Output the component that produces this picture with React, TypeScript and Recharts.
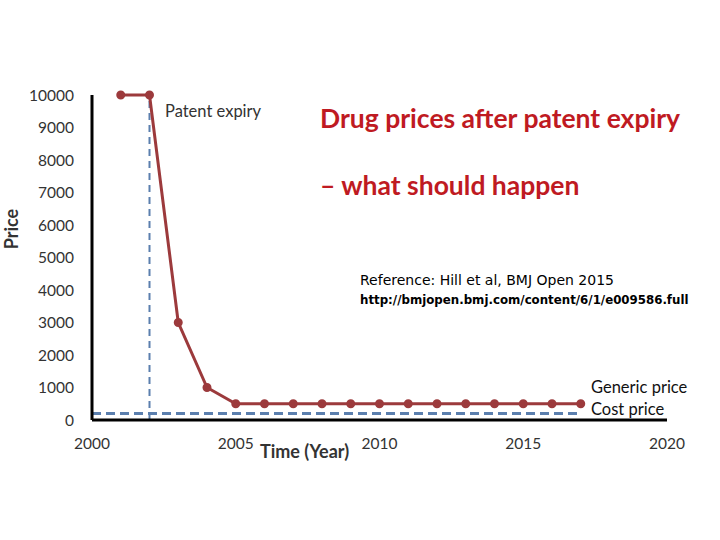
import { LineChart, Line, XAxis, YAxis, ReferenceLine } from 'recharts';

const YEARS = [2000, 2001, 2002, 2003, 2004, 2005, 2006, 2007, 2008, 2009, 2010, 2011, 2012, 2013, 2014, 2015, 2016, 2017];
const GENERIC_PRICE = [null, 10000, 10000, 3000, 1000, 500, 500, 500, 500, 500, 500, 500, 500, 500, 500, 500, 500, 500];
const COST_PRICE = [200, 200, 200, 200, 200, 200, 200, 200, 200, 200, 200, 200, 200, 200, 200, 200, 200, 200];
const X_TICKS = [2000, 2005, 2010, 2015, 2020];
const Y_TICKS = [0, 1000, 2000, 3000, 4000, 5000, 6000, 7000, 8000, 9000, 10000];
const PATENT_EXPIRY = 2002;

const data = YEARS.map((year, i) => ({ year, generic: GENERIC_PRICE[i], cost: COST_PRICE[i] }));

const FONT = 'Lato, "Open Sans", sans-serif';
const tick = { fontSize: 15.5, fill: '#333', fontFamily: FONT };

const App = () => {
  return (
    <div style={{ position: 'absolute', left: 0, top: 0, width: 720, height: 540, background: '#fff', fontFamily: FONT }}>
      <LineChart width={720} height={540} data={data} margin={{ top: 95, right: 53, bottom: 90, left: 0 }}>
        <XAxis
          dataKey="year"
          type="number"
          domain={[2000, 2020]}
          ticks={X_TICKS}
          tick={tick}
          tickLine={false}
          tickMargin={12}
          height={30}
          axisLine={{ stroke: '#000', strokeWidth: 3 }}
        />
        <YAxis
          domain={[0, 10000]}
          ticks={Y_TICKS}
          tick={tick}
          tickLine={false}
          tickMargin={12}
          width={92}
          axisLine={{ stroke: '#000', strokeWidth: 3 }}
        />
        <ReferenceLine x={PATENT_EXPIRY} stroke="#5b7fae" strokeWidth={2} strokeDasharray="7 5" />
        <Line
          dataKey="cost"
          stroke="#5b7fae"
          strokeWidth={3}
          strokeDasharray="9 5"
          dot={false}
          isAnimationActive={false}
        />
        <Line
          dataKey="generic"
          stroke="#9c3a3c"
          strokeWidth={3}
          dot={{ r: 3, fill: '#9c3a3c', stroke: '#9c3a3c' }}
          isAnimationActive={false}
        />
      </LineChart>

      <div style={{ position: 'absolute', left: 320, top: 102, fontSize: 26.5, fontWeight: 700, color: '#bf1a22', whiteSpace: 'nowrap' }}>
        Drug prices after patent expiry
      </div>
      <div style={{ position: 'absolute', left: 320, top: 169, fontSize: 26.5, fontWeight: 700, color: '#bf1a22', whiteSpace: 'nowrap' }}>
        – what should happen
      </div>
      <div style={{ position: 'absolute', left: 165, top: 101, fontSize: 16.5, color: '#333', whiteSpace: 'nowrap' }}>
        Patent expiry
      </div>
      <div style={{ position: 'absolute', left: -11, top: 220, fontSize: 18, lineHeight: '18px', fontWeight: 700, color: '#333', transform: 'rotate(-90deg)', transformOrigin: 'center', width: 44, textAlign: 'center' }}>
        Price
      </div>
      <div style={{ position: 'absolute', left: 260, top: 440, fontSize: 18, fontWeight: 700, color: '#333', whiteSpace: 'nowrap' }}>
        Time (Year)
      </div>
      <div style={{ position: 'absolute', left: 360, top: 272, fontSize: 14, fontFamily: '"DejaVu Sans", sans-serif', color: '#000', whiteSpace: 'nowrap' }}>
        Reference: Hill et al, BMJ Open 2015
      </div>
      <div style={{ position: 'absolute', left: 360, top: 293, fontSize: 11.8, fontWeight: 700, fontFamily: '"DejaVu Sans", sans-serif', color: '#000', whiteSpace: 'nowrap' }}>
        http://bmjopen.bmj.com/content/6/1/e009586.full
      </div>
      <div style={{ position: 'absolute', left: 591, top: 377, fontSize: 16.5, color: '#111', whiteSpace: 'nowrap' }}>
        Generic price
      </div>
      <div style={{ position: 'absolute', left: 591, top: 399, fontSize: 16.5, color: '#111', whiteSpace: 'nowrap' }}>
        Cost price
      </div>
    </div>
  );
};

export default App;
